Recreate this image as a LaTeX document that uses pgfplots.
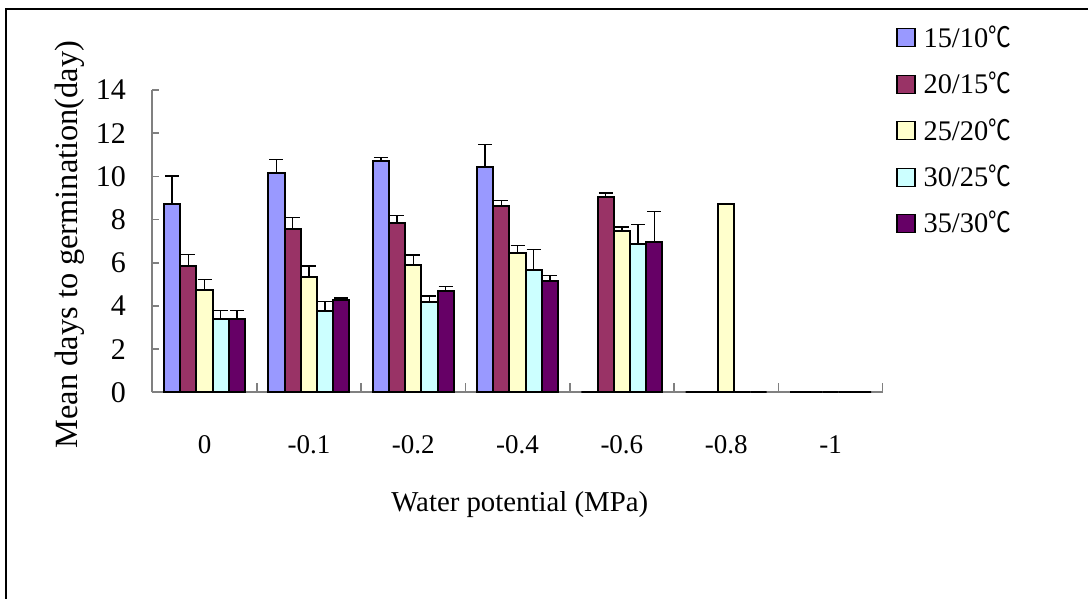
\documentclass[border=0pt]{standalone}
\usepackage{fontspec}
\setmainfont{Liberation Serif}
\newfontfamily\cjk{Noto Sans CJK SC}[FakeStretch=0.8]
\usepackage{pgfplots}
\pgfplotsset{compat=1.18}
\usepackage{pgfplotstable}

\definecolor{cA}{HTML}{9999FF}
\definecolor{cB}{HTML}{993366}
\definecolor{cC}{HTML}{FFFFCC}
\definecolor{cD}{HTML}{CCFFFF}
\definecolor{cE}{HTML}{660066}

\newcommand{\degC}{{\cjk ℃}}

% x: 0 = 0 MPa, 1 = -0.1, 2 = -0.2, 3 = -0.4, 4 = -0.6, 5 = -0.8, 6 = -1
\pgfplotstableread{
x y e
0 8.70 1.31
1 10.17 0.62
2 10.71 0.17
3 10.43 1.05
4 0 0
5 0 0
6 0 0
}\tA
\pgfplotstableread{
x y e
0 5.83 0.54
1 7.56 0.54
2 7.82 0.36
3 8.61 0.26
4 9.04 0.19
5 0 0
6 0 0
}\tB
\pgfplotstableread{
x y e
0 4.72 0.51
1 5.32 0.53
2 5.91 0.45
3 6.44 0.35
4 7.48 0.17
5 8.70 0.03
6 0 0
}\tC
\pgfplotstableread{
x y e
0 3.41 0.37
1 3.75 0.46
2 4.18 0.28
3 5.65 0.97
4 6.87 0.89
5 0 0
6 0 0
}\tD
\pgfplotstableread{
x y e
0 3.41 0.37
1 4.29 0.08
2 4.70 0.19
3 5.14 0.26
4 6.96 1.40
5 0 0
6 0 0
}\tE

\pgfplotsset{
  tempbar/.style={draw=black, line width=1pt,
    error bars/.cd, y dir=plus, y explicit,
    error bar style={black, line width=0.7pt},
    error mark options={rotate=90, black, mark size=3.5pt, line width=0.7pt}},
}

\begin{document}
\begin{tikzpicture}
\useasboundingbox (0,0) rectangle (544pt,299.5pt);
\draw[line width=0.9pt] (3pt,0) -- (3pt,295pt) -- (544pt,295pt);
\begin{axis}[
  at={(76.2pt,103.35pt)}, anchor=south west,
  scale only axis, width=365.15pt, height=151.15pt,
  font=\fontsize{15}{18}\selectfont,
  /pgf/number format/assume math mode=true,
  ybar=0pt, bar width=8.1pt,
  xmin=-0.5, xmax=6.5, ymin=0, ymax=14,
  clip=false,
  axis x line*=bottom, axis y line*=left,
  axis line style={-, draw=gray, line width=1pt},
  xtick={0,1,2,3,4,5,6},
  xticklabels={0,-0.1,-0.2,-0.4,-0.6,-0.8,-1},
  minor xtick={-0.5,0.5,1.5,2.5,3.5,4.5,5.5,6.5},
  ytick={0,2,4,6,8,10,12,14},
  tick align=inside,
  major x tick style={draw=none},
  tick style={gray, line width=0.8pt},
  major tick length=3.5pt, minor tick length=4.5pt,
  yticklabel style={anchor=east, inner sep=0pt, xshift=-13pt},
  xticklabel style={anchor=center, inner sep=0pt, yshift=-26pt,
    font=\fontsize{13.5}{16}\selectfont},
  ylabel={Mean days to germination(day)},
  ylabel style={at={(axis description cs:-0.1129,0.489)}, anchor=center,
    font=\fontsize{16.2}{19}\selectfont},
  xlabel={Water potential (MPa)},
  xlabel style={at={(axis description cs:0.503,-0.373)}, anchor=center,
    font=\fontsize{14.4}{17}\selectfont},
  legend image code/.code={\draw[#1, line width=0.6pt] (0pt,-4.5pt) rectangle (9pt,4.5pt);},
  legend cell align=left,
  legend style={at={(axis description cs:1.0182,1.215)}, anchor=north west,
    draw=none, fill=none, inner sep=0pt, nodes={inner sep=0pt},
    font=\fontsize{14.2}{17}\selectfont,
    row sep=10.9pt, column sep=4pt},
]
\addplot[fill=cA, tempbar] table[x=x, y=y, y error=e] {\tA};
\addplot[fill=cB, tempbar] table[x=x, y=y, y error=e] {\tB};
\addplot[fill=cC, tempbar] table[x=x, y=y, y error=e] {\tC};
\addplot[fill=cD, tempbar] table[x=x, y=y, y error=e] {\tD};
\addplot[fill=cE, tempbar] table[x=x, y=y, y error=e] {\tE};
\legend{15/10\degC, 20/15\degC, 25/20\degC, 30/25\degC, 35/30\degC}
\end{axis}
\end{tikzpicture}
\end{document}
